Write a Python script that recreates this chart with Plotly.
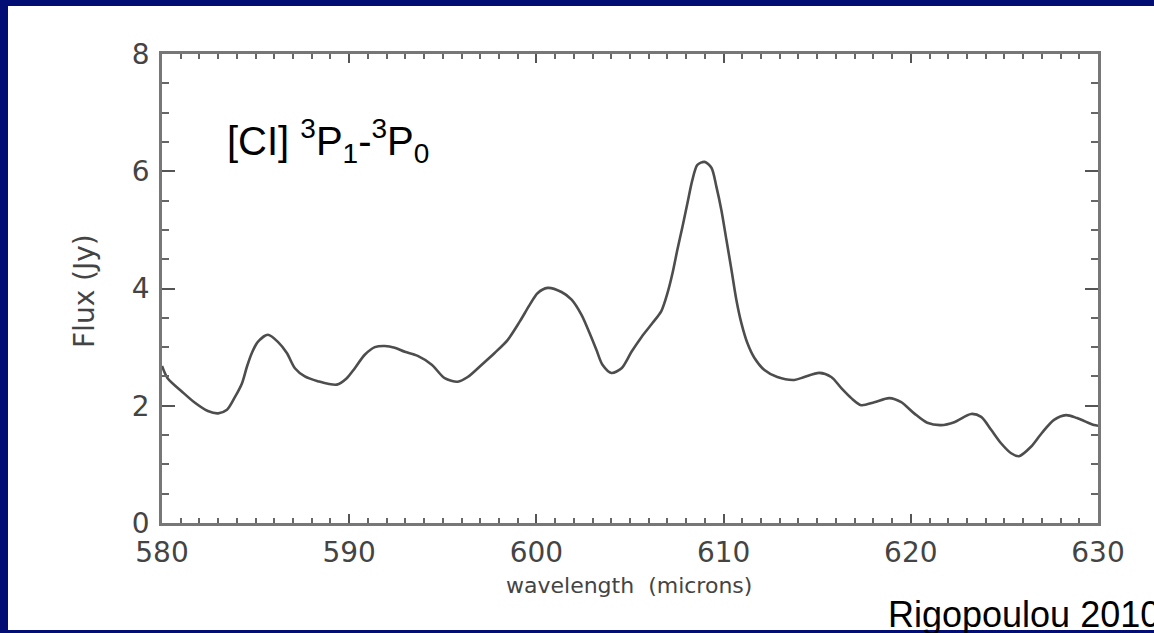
import plotly.graph_objects as go

# ---- data ----
wavelength = [580.0, 580.3, 581.07, 581.76, 582.45, 583.0, 583.47, 583.9, 584.27, 584.54,
              584.8, 585.12, 585.66, 586.19, 586.67, 587.1, 587.63, 588.32, 589.34, 589.87,
              590.3, 590.83, 591.37, 591.9, 592.43, 592.97, 593.66, 594.41, 595.1, 595.8,
              596.33, 597.08, 597.77, 598.46, 599.1, 599.64, 600.06, 600.6, 601.34, 601.88,
              602.41, 602.84, 603.21, 603.53, 604.01, 604.55, 605.08, 605.61, 606.2, 606.68,
              607.0, 607.27, 607.53, 607.8, 608.07, 608.33, 608.6, 608.98, 609.35, 609.62,
              609.88, 610.15, 610.42, 610.68, 610.95, 611.27, 611.64, 612.18, 612.87, 613.78,
              614.31, 615.11, 615.75, 616.29, 616.82, 617.35, 618.05, 618.85, 619.49, 620.18,
              620.88, 621.62, 622.32, 623.22, 623.76, 624.29, 624.82, 625.36, 625.78, 626.42,
              627.01, 627.65, 628.29, 628.88, 629.79, 630.0]
flux = [2.68, 2.47, 2.24, 2.05, 1.91, 1.87, 1.93, 2.15, 2.38, 2.67,
        2.90, 3.09, 3.21, 3.09, 2.90, 2.64, 2.50, 2.42, 2.36, 2.47,
        2.64, 2.87, 3.00, 3.02, 2.99, 2.92, 2.85, 2.70, 2.47, 2.41,
        2.49, 2.70, 2.90, 3.12, 3.43, 3.72, 3.92, 4.01, 3.94, 3.81,
        3.55, 3.24, 2.95, 2.70, 2.56, 2.64, 2.92, 3.17, 3.41, 3.62,
        3.92, 4.26, 4.66, 5.05, 5.46, 5.85, 6.11, 6.16, 6.06, 5.73,
        5.34, 4.83, 4.32, 3.81, 3.41, 3.07, 2.82, 2.61, 2.49, 2.44,
        2.49, 2.56, 2.49, 2.30, 2.13, 2.01, 2.06, 2.13, 2.06, 1.87,
        1.71, 1.67, 1.72, 1.86, 1.81, 1.59, 1.36, 1.19, 1.14, 1.30,
        1.54, 1.76, 1.84, 1.79, 1.67, 1.66]

x_ticks = [580, 590, 600, 610, 620, 630]
y_ticks = [0, 2, 4, 6, 8]

x_title = "wavelength  (microns)"
y_title = "Flux (Jy)"
line_label = "[CI] <sup>3</sup>P<sub>1</sub>-<sup>3</sup>P<sub>0</sub>"
credit = "Rigopoulou 2010"

NAVY = "#020e74"
AXIS = "#777777"
TEXT = "#444444"
TICKFONT = dict(family="DejaVu Sans", size=28, color=TEXT)

fig = go.Figure()
fig.add_trace(go.Scatter(
    x=wavelength, y=flux, mode="lines",
    line=dict(color="#4d4d4d", width=2.6, shape="spline", smoothing=0.8),
    showlegend=False, hoverinfo="skip"))

W, H = 1154, 633
L, R, T, B = 162, 56, 54, 110
pw, ph = W - L - R, H - T - B

def px_to_paper_x(px):
    return (px - L) / pw

def px_to_paper_y(py):
    return (H - B - py) / ph

fig.update_layout(
    width=W, height=H,
    margin=dict(l=L, r=R, t=T, b=B, pad=0),
    paper_bgcolor="white",
    plot_bgcolor="white",
    shapes=[
        # navy slide frame: left, top, bottom bands
        dict(type="rect", xref="paper", yref="paper", layer="below",
             x0=px_to_paper_x(0), x1=px_to_paper_x(8),
             y0=px_to_paper_y(H), y1=px_to_paper_y(0),
             fillcolor=NAVY, line=dict(width=0)),
        dict(type="rect", xref="paper", yref="paper", layer="below",
             x0=px_to_paper_x(0), x1=px_to_paper_x(W),
             y0=px_to_paper_y(6), y1=px_to_paper_y(0),
             fillcolor=NAVY, line=dict(width=0)),
        dict(type="rect", xref="paper", yref="paper", layer="below",
             x0=px_to_paper_x(0), x1=px_to_paper_x(W),
             y0=px_to_paper_y(H), y1=px_to_paper_y(630),
             fillcolor=NAVY, line=dict(width=0)),
    ],
    xaxis=dict(range=[580, 630], tickvals=x_ticks, ticktext=[str(v) for v in x_ticks],
               showgrid=False, zeroline=False,
               showline=True, linecolor=AXIS, linewidth=2.5, mirror="ticks",
               ticks="inside", ticklen=9, tickwidth=2, tickcolor="#555555",
               minor=dict(dtick=1, ticks="inside", ticklen=5, tickwidth=2,
                          tickcolor="#666666", showgrid=False),
               tickfont=TICKFONT, ticklabelstandoff=3),
    yaxis=dict(range=[0, 8], tickvals=y_ticks, ticktext=[str(v) for v in y_ticks],
               showgrid=False, zeroline=False,
               showline=True, linecolor=AXIS, linewidth=2.5, mirror="ticks",
               ticks="inside", ticklen=13, tickwidth=2, tickcolor="#555555",
               minor=dict(dtick=0.5, ticks="inside", ticklen=7, tickwidth=2,
                          tickcolor="#666666", showgrid=False),
               tickfont=TICKFONT, ticklabelstandoff=4),
    annotations=[
        dict(text=x_title, xref="paper", yref="paper",
             x=px_to_paper_x(629), y=px_to_paper_y(585),
             xanchor="center", yanchor="middle", showarrow=False,
             font=dict(family="DejaVu Sans", size=22, color=TEXT)),
        dict(text=y_title, xref="paper", yref="paper",
             x=px_to_paper_x(84), y=px_to_paper_y(291),
             xanchor="center", yanchor="middle", showarrow=False, textangle=-90,
             font=dict(family="DejaVu Sans", size=28, color=TEXT)),
        dict(text=line_label, xref="paper", yref="paper",
             x=px_to_paper_x(225), y=px_to_paper_y(141),
             xanchor="left", yanchor="middle", showarrow=False,
             font=dict(family="Arial, Liberation Sans", size=40, color="black")),
        dict(text=credit, xref="paper", yref="paper",
             x=px_to_paper_x(886), y=px_to_paper_y(614),
             xanchor="left", yanchor="middle", showarrow=False,
             font=dict(family="Arial, Liberation Sans", size=36, color="black")),
    ],
)

fig.write_html("out.html",
               config={"displayModeBar": False},
               post_script="document.body.style.margin='0';document.body.style.overflow='hidden';")
